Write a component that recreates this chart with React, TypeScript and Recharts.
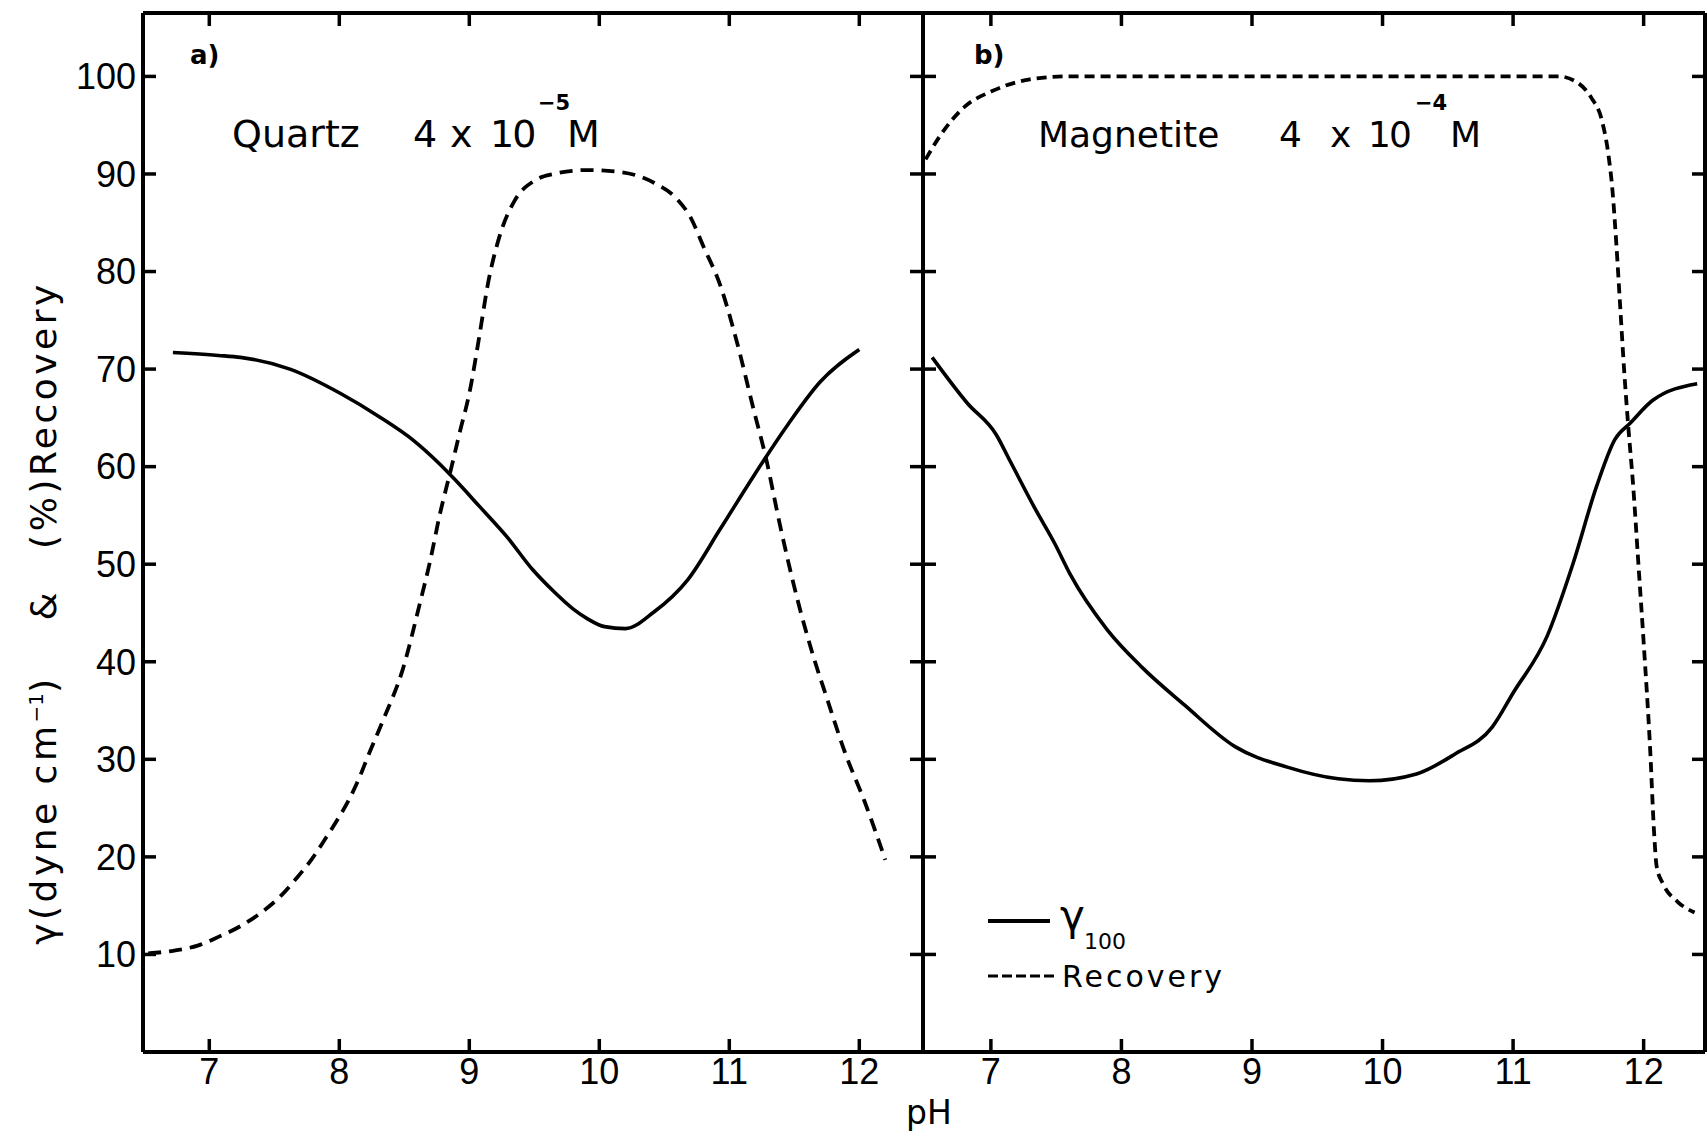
import { LineChart, Line, XAxis, YAxis } from "recharts";
import type { CSSProperties, ReactNode } from "react";

// a) Quartz 4 x 10^-5 M
const quartzGammaPH = [6.72, 7.07, 7.24, 7.62, 8.01, 8.31, 8.57, 8.77, 8.88, 9.08, 9.29, 9.49, 9.65, 9.8, 9.91, 10.04, 10.2, 10.42, 10.68, 10.93, 11.19, 11.45, 11.7, 12.0];
const quartzGamma = [71.7, 71.4, 71.2, 70.0, 67.5, 65.1, 62.7, 60.3, 58.8, 55.9, 52.8, 49.4, 47.2, 45.4, 44.4, 43.6, 43.4, 45.1, 48.4, 53.6, 59.1, 64.3, 68.7, 72.0];
const quartzRecoveryPH = [6.53, 6.73, 6.91, 7.07, 7.24, 7.4, 7.55, 7.67, 7.79, 7.89, 7.99, 8.08, 8.16, 8.22, 8.34, 8.49, 8.62, 8.7, 8.77, 8.86, 8.93, 9.0, 9.08, 9.14, 9.23, 9.35, 9.5, 9.65, 9.9, 10.16, 10.42, 10.6, 10.7, 10.8, 10.93, 11.06, 11.19, 11.28, 11.39, 11.52, 11.65, 11.75, 11.89, 12.04, 12.2];
const quartzRecovery = [10.1, 10.4, 10.9, 11.8, 12.9, 14.3, 16.0, 17.8, 19.8, 21.8, 23.9, 26.0, 28.3, 30.3, 34.1, 39.3, 46.0, 50.4, 54.9, 59.8, 63.7, 67.5, 73.6, 78.5, 83.5, 87.3, 89.3, 90.0, 90.4, 90.2, 89.1, 87.4, 85.6, 82.6, 78.6, 72.7, 65.7, 61.0, 54.0, 46.6, 40.4, 36.3, 30.7, 25.7, 19.7];

// b) Magnetite 4 x 10^-4 M
const magnetiteGammaPH = [6.55, 6.82, 7.04, 7.15, 7.33, 7.49, 7.61, 7.89, 8.16, 8.48, 8.87, 9.27, 9.66, 9.9, 10.26, 10.55, 10.84, 11.0, 11.26, 11.46, 11.64, 11.78, 11.9, 12.07, 12.41];
const magnetiteGamma = [71.2, 66.5, 63.3, 60.5, 55.9, 52.1, 48.9, 43.3, 39.4, 35.6, 31.3, 29.2, 28.0, 27.8, 28.5, 30.5, 33.3, 36.8, 42.6, 50.1, 58.0, 62.8, 64.5, 66.8, 68.5];
const magnetiteRecoveryPH = [6.5, 6.61, 6.8, 7.01, 7.3, 7.59, 8.5, 9.5, 10.5, 11.35, 11.5, 11.6, 11.68, 11.73, 11.76, 11.79, 11.82, 11.85, 11.88, 11.92, 11.96, 12.0, 12.05, 12.08, 12.1, 12.15, 12.26, 12.39];
const magnetiteRecovery = [91.5, 93.9, 96.9, 98.5, 99.7, 100, 100, 100, 100, 100, 99.3, 97.8, 95.5, 92.0, 88.5, 83.0, 76.5, 70.0, 64.5, 58.0, 50.0, 42.0, 31.0, 22.5, 19.0, 17.2, 15.4, 14.3];

const phTicks = [7, 8, 9, 10, 11, 12];
const valueTicks = [10, 20, 30, 40, 50, 60, 70, 80, 90, 100];

const toPoints = (ph: number[], v: number[]) => ph.map((p, i) => ({ ph: p, v: v[i] }));

const CHART_H = 1135;
const TOP = 12;
const BOTTOM_AXIS = 83;
const Y_DOMAIN: [number, number] = [0, 106.5];

const axisLine = { stroke: "#000", strokeWidth: 4 };
const tickLine = { stroke: "#000", strokeWidth: 3.5 };
const tickFont = { fill: "#000", fontSize: 36, fontFamily: "'Liberation Sans', Arial, sans-serif" };
const blank = () => "";

const LETTER = "'DejaVu Sans', Verdana, sans-serif";

function Label({ x, baseline, size, children, style }: { x: number; baseline: number; size: number; children: ReactNode; style?: CSSProperties }) {
  return (
    <div
      style={{
        position: "absolute",
        left: x,
        top: baseline - 0.846 * size,
        fontSize: size,
        lineHeight: `${size}px`,
        fontFamily: LETTER,
        color: "#000",
        whiteSpace: "nowrap",
        ...style,
      }}
    >
      {children}
    </div>
  );
}

function Panel({
  left,
  width,
  domain,
  gamma,
  recovery,
  showLabels,
  dash,
  rightWidth,
}: {
  left: number;
  width: number;
  domain: [number, number];
  gamma: { ph: number; v: number }[];
  recovery: { ph: number; v: number }[];
  showLabels: boolean;
  dash: string;
  rightWidth: number;
}) {
  return (
    <div style={{ position: "absolute", left, top: 0 }}>
      <LineChart width={width} height={CHART_H} margin={{ top: TOP, right: 0, bottom: 0, left: 0 }}>
        <XAxis
          xAxisId="b"
          type="number"
          dataKey="ph"
          domain={domain}
          ticks={phTicks}
          interval={0}
          allowDataOverflow
          height={BOTTOM_AXIS}
          tickSize={-13}
          tickMargin={19}
          axisLine={axisLine}
          tickLine={tickLine}
          tick={tickFont}
        />
        <XAxis
          xAxisId="t"
          orientation="top"
          type="number"
          dataKey="ph"
          domain={domain}
          ticks={phTicks}
          interval={0}
          allowDataOverflow
          height={1}
          tickSize={-13}
          tickFormatter={blank}
          axisLine={axisLine}
          tickLine={tickLine}
        />
        <YAxis
          yAxisId="l"
          type="number"
          domain={Y_DOMAIN}
          ticks={valueTicks}
          interval={0}
          allowDataOverflow
          width={showLabels ? 143 : 1}
          tickSize={-13}
          tickMargin={20}
          axisLine={axisLine}
          tickLine={tickLine}
          tick={tickFont}
          tickFormatter={showLabels ? undefined : blank}
        />
        <YAxis
          yAxisId="r"
          orientation="right"
          type="number"
          domain={Y_DOMAIN}
          ticks={valueTicks}
          interval={0}
          allowDataOverflow
          width={rightWidth}
          tickSize={-13}
          tickFormatter={blank}
          axisLine={axisLine}
          tickLine={tickLine}
        />
        <Line
          xAxisId="b"
          yAxisId="l"
          data={gamma}
          dataKey="v"
          type="monotone"
          stroke="#000"
          strokeWidth={3.6}
          dot={false}
          isAnimationActive={false}
        />
        <Line
          xAxisId="b"
          yAxisId="l"
          data={recovery}
          dataKey="v"
          type="monotone"
          stroke="#000"
          strokeWidth={3.8}
          strokeDasharray={dash}
          dot={false}
          isAnimationActive={false}
        />
      </LineChart>
    </div>
  );
}

export default function App() {
  return (
    <div style={{ position: "absolute", left: 0, top: 0, width: 1707, height: CHART_H, background: "#fff", overflow: "hidden" }}>
      <Panel
        left={0}
        width={924}
        domain={[6.49, 12.49]}
        gamma={toPoints(quartzGammaPH, quartzGamma)}
        recovery={toPoints(quartzRecoveryPH, quartzRecovery)}
        showLabels
        dash="13 8"
        rightWidth={1}
      />
      <Panel
        left={922}
        width={785}
        domain={[6.48, 12.47]}
        gamma={toPoints(magnetiteGammaPH, magnetiteGamma)}
        recovery={toPoints(magnetiteRecoveryPH, magnetiteRecovery)}
        showLabels={false}
        dash="10 6"
        rightWidth={2}
      />

      {/* panel captions */}
      <Label x={190} baseline={64} size={26} style={{ fontWeight: "bold" }}>a)</Label>
      <Label x={974} baseline={64} size={26} style={{ fontWeight: "bold" }}>b)</Label>

      <Label x={232} baseline={147} size={38}>Quartz</Label>
      <Label x={413} baseline={147} size={38}>4</Label>
      <Label x={450} baseline={147} size={38}>x</Label>
      <Label x={490} baseline={147} size={38} style={{ letterSpacing: -2 }}>10</Label>
      <Label x={538} baseline={111} size={21} style={{ fontWeight: "bold" }}>−5</Label>
      <Label x={567} baseline={147} size={38}>M</Label>

      <Label x={1038} baseline={147} size={36}>Magnetite</Label>
      <Label x={1279} baseline={147} size={36}>4</Label>
      <Label x={1330} baseline={147} size={36}>x</Label>
      <Label x={1368} baseline={147} size={36} style={{ letterSpacing: -2 }}>10</Label>
      <Label x={1415} baseline={111} size={21} style={{ fontWeight: "bold" }}>−4</Label>
      <Label x={1450} baseline={147} size={36}>M</Label>

      {/* legend */}
      <svg style={{ position: "absolute", left: 986, top: 910 }} width={72} height={80}>
        <line x1={2} y1={11} x2={64} y2={11} stroke="#000" strokeWidth={4} />
        <line x1={2} y1={66} x2={68} y2={66} stroke="#000" strokeWidth={3} strokeDasharray="10 4" />
      </svg>
      <Label x={1060} baseline={931} size={42}>γ</Label>
      <Label x={1084} baseline={950} size={22}>100</Label>
      <Label x={1062} baseline={987} size={30} style={{ letterSpacing: 3 }}>Recovery</Label>

      {/* axis titles */}
      <div
        style={{
          position: "absolute",
          left: 40,
          top: 613,
          transform: "translate(-50%, -50%) rotate(-90deg)",
          fontFamily: LETTER,
          fontSize: 36,
          lineHeight: "44px",
          letterSpacing: 3.5,
          whiteSpace: "nowrap",
          color: "#000",
        }}
      >
        <span>γ(dyne cm</span>
        <sup style={{ fontSize: 20, letterSpacing: 0 }}>−1</sup>
        <span style={{ marginRight: 55 }}>)</span>
        <span style={{ marginRight: 40 }}>&amp;</span>
        <span>(%)Recovery</span>
      </div>
      <Label x={906} baseline={1124} size={33}>pH</Label>
    </div>
  );
}
